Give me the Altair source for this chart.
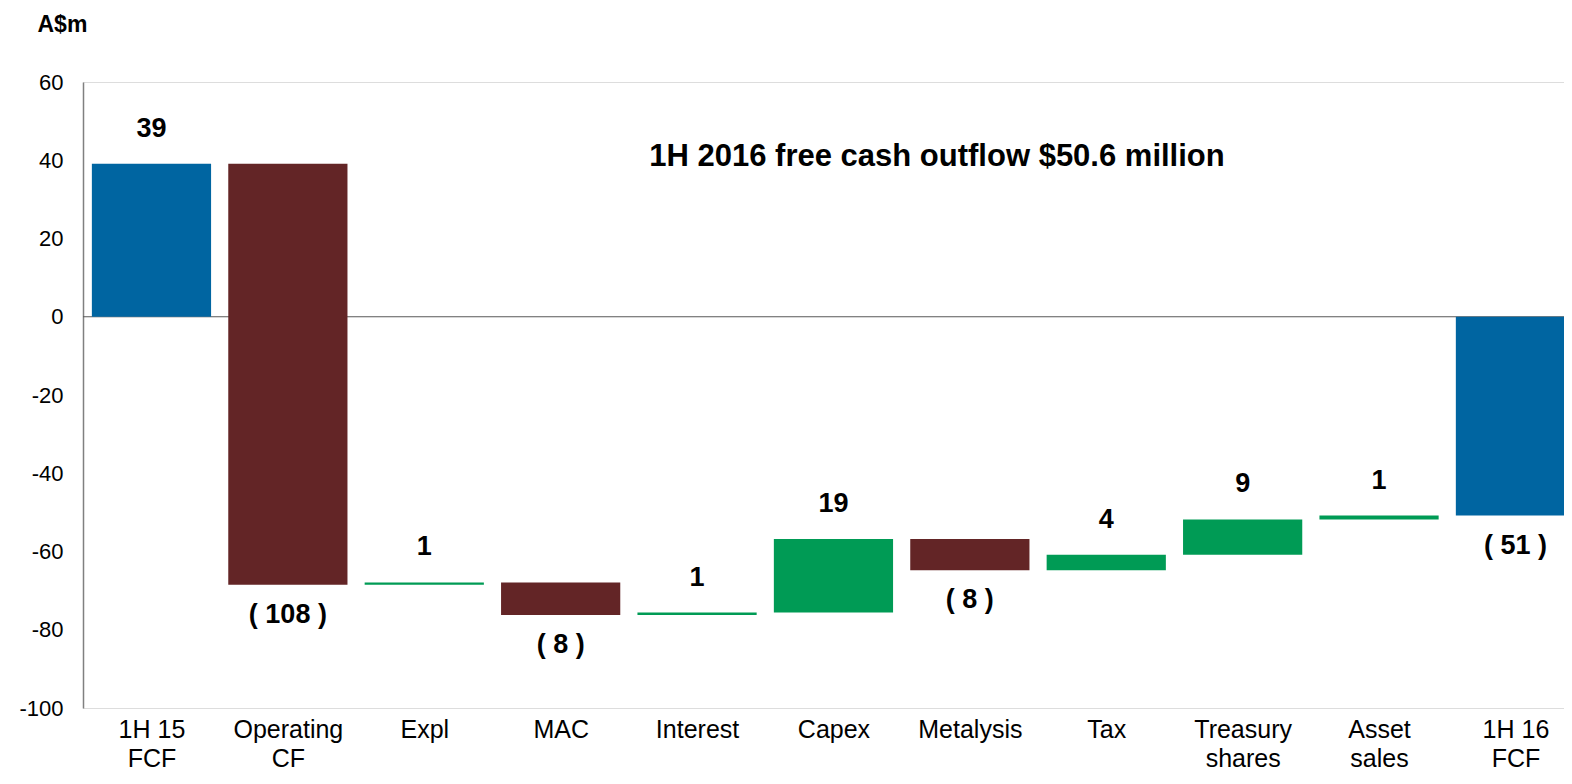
import altair as alt
import pandas as pd

categories = ["1H 15\nFCF", "Operating\nCF", "Expl", "MAC", "Interest", "Capex",
              "Metalysis", "Tax", "Treasury\nshares", "Asset\nsales", "1H 16\nFCF"]
kinds = ["total", "delta", "delta", "delta", "delta", "delta",
         "delta", "delta", "delta", "delta", "total"]
changes = [39.1, -107.6, 0.6, -8.3, 0.6, 18.8, -8.0, 4.0, 9.0, 1.0, 0.0]
labels = ["39", "( 108 )", "1", "( 8 )", "1", "19", "( 8 )", "4", "9", "1", "( 51 )"]
headline = "1H 2016 free cash outflow $50.6 million"

rows = []
running = 0.0
for i, (cat, kind, ch, lab) in enumerate(zip(categories, kinds, changes, labels)):
    if kind == "total":
        if i == 0:
            start, end = 0.0, ch
            running = ch
        else:
            start, end = 0.0, running
        grp = "total"
    else:
        start, end = running, running + ch
        running = end
        grp = "neg" if ch < 0 else "pos"
    sign = "neg" if end < start else "pos"
    rows.append(dict(idx=i, cat=cat, start=start, end=end, grp=grp, label=lab,
                     top=max(start, end), bottom=min(start, end), sign=sign))
df = pd.DataFrame(rows)

font = "Liberation Sans"
cat_expr = "|".join(c.replace("\n", "\\n") for c in categories)
x_label_expr = "split(split('" + cat_expr + "', '|')[datum.value], '\\n')"

x_scale = alt.Scale(domain=[-0.502, 10.356], nice=False, zero=False)
x_axis = alt.Axis(title=None, values=list(range(len(categories))), labelExpr=x_label_expr,
                  labelAngle=0, labelFontSize=25, labelLineHeight=29, labelPadding=9,
                  ticks=False, domain=False, grid=False, labelColor="#000000",
                  labelFont=font, labelFlush=False, labelOverlap=False)

y_scale = alt.Scale(domain=[-100, 60], nice=False, zero=False)

zero = alt.Chart(pd.DataFrame({"z": [0]})).mark_rule(color="#595959", strokeWidth=1.2).encode(
    y=alt.Y("z:Q", scale=y_scale), x=alt.value(0), x2=alt.value(1481))

bars = alt.Chart(df).transform_calculate(
    x0="datum.idx - 0.437", x1="datum.idx + 0.437"
).mark_bar(clip=True).encode(
    x=alt.X("x0:Q", scale=x_scale, axis=x_axis),
    x2="x1:Q",
    y=alt.Y("start:Q", scale=y_scale,
            axis=alt.Axis(title="A$m", values=list(range(-100, 61, 20)), grid=False,
                          ticks=False, labelFontSize=22, labelPadding=20,
                          labelExpr="toString(datum.value)",
                          labelColor="#000000", labelFont=font,
                          domainColor="#808080", domainWidth=1.5,
                          titleAngle=0, titleX=-46, titleY=-58, titleAlign="left",
                          titleBaseline="middle", titleFontSize=23,
                          titleFontWeight="bold", titleFont=font, titleColor="#000000")),
    y2="end:Q",
    color=alt.Color("grp:N", scale=alt.Scale(domain=["total", "neg", "pos"],
                                             range=["#0065A1", "#632526", "#009B55"]),
                    legend=None),
)

pos_labels = alt.Chart(df).transform_filter("datum.sign == 'pos'").mark_text(
    fontSize=27, fontWeight="bold", font=font, dy=-35, baseline="middle", color="#000000"
).encode(x=alt.X("idx:Q", scale=x_scale), y="top:Q", text="label:N")

neg_labels = alt.Chart(df).transform_filter("datum.sign == 'neg'").mark_text(
    fontSize=27, fontWeight="bold", font=font, dy=30, baseline="middle", color="#000000"
).encode(x=alt.X("idx:Q", scale=x_scale), y="bottom:Q", text="label:N")

title_txt = alt.Chart(pd.DataFrame({"t": [headline]})).mark_text(
    fontSize=31, fontWeight="bold", font=font, align="center", baseline="middle",
    color="#000000"
).encode(x=alt.value(854), y=alt.value(75), text="t:N")

chart = alt.layer(zero, bars, pos_labels, neg_labels, title_txt).properties(
    width=1481, height=626,
    autosize=alt.AutoSizeParams(type="none"),
    padding={"left": 75, "top": 74, "right": 0, "bottom": 68},
).configure_view(stroke=None).configure(font=font)

chart.save("out.html", embed_options={"renderer": "svg", "actions": False})
